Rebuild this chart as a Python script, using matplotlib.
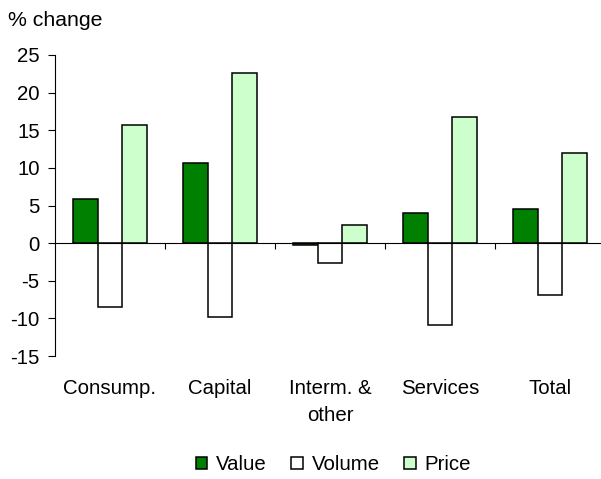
import numpy as np
import matplotlib.pyplot as plt
import matplotlib.transforms as mtransforms

plt.rcParams['font.family'] = ['Liberation Sans', 'DejaVu Sans']
plt.rcParams['axes.unicode_minus'] = False

# data
categories = ["Consump.", "Capital", "Interm. &\nother", "Services", "Total"]
value = [5.9, 10.6, -0.3, 4.0, 4.5]
volume = [-8.5, -9.8, -2.6, -10.9, -6.9]
price = [15.7, 22.6, 2.4, 16.7, 12.0]
yticks = [-15, -10, -5, 0, 5, 10, 15, 20, 25]

fs = 14.7

fig = plt.figure(figsize=(6.01, 4.79), dpi=100)
ax = fig.add_axes([55 / 601, 1 - 356 / 479, 550 / 601, 301 / 479])

x = np.arange(len(categories))
w = 0.224
ax.bar(x - w, value, w, color='#008000', edgecolor='black', linewidth=1.1, label='Value')
ax.bar(x, volume, w, color='white', edgecolor='black', linewidth=1.1, label='Volume')
ax.bar(x + w, price, w, color='#CCFFCC', edgecolor='black', linewidth=1.1, label='Price')

ax.set_xlim(-0.5, len(categories) - 0.5)
ax.set_ylim(-15, 25)
ax.set_yticks(yticks)
ax.tick_params(axis='y', labelsize=fs, length=5, width=0.8, direction='out', pad=6)

# x axis sits at zero, ticks at category boundaries
ax.spines['top'].set_visible(False)
ax.spines['right'].set_visible(False)
ax.spines['bottom'].set_position(('data', 0))
ax.spines['bottom'].set_linewidth(0.8)
ax.spines['left'].set_linewidth(0.8)
ax.set_xticks(x[:-1] + 0.5)
ax.set_xticklabels([])
ax.tick_params(axis='x', length=4.5, width=0.8, direction='out')

trans = mtransforms.blended_transform_factory(ax.transData, ax.transAxes)
for i, c in enumerate(categories):
    ax.text(i, -0.075, c, transform=trans, ha='center', va='top', fontsize=fs,
            linespacing=1.55, multialignment='center')

fig.text(8 / 601, 1 - 20 / 479, "% change", fontsize=15.3, ha='left', va='center')

fig.legend(loc='center', bbox_to_anchor=(0.555, 0.03), ncol=3, frameon=False,
           fontsize=fs, handlelength=0.55, handleheight=0.55, handletextpad=0.45,
           columnspacing=1.2)

fig.savefig('out.png', dpi=100)
